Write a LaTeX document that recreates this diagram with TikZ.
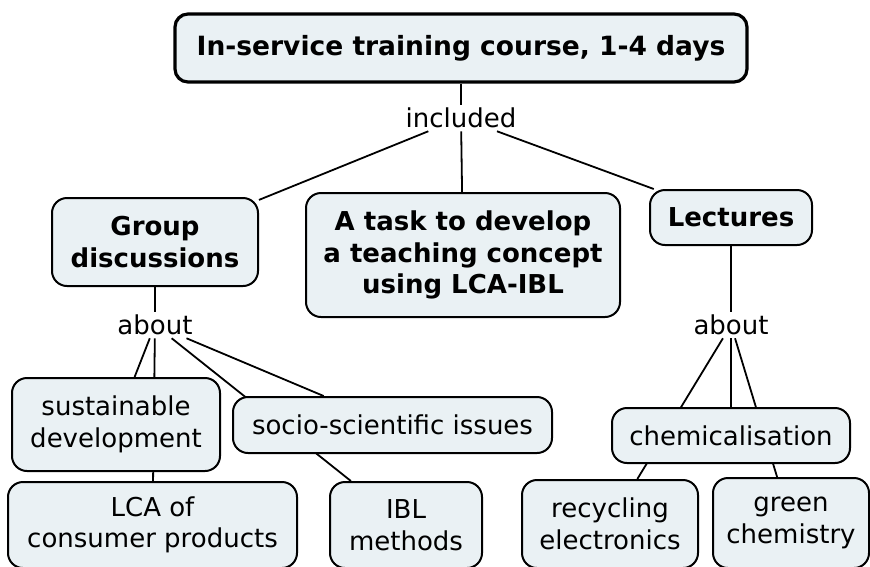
\documentclass[tikz,border=0pt]{standalone}
\usepackage{fontspec}
\setmainfont{DejaVu Sans}
\usepackage{tikz}
\usetikzlibrary{positioning,backgrounds}
\definecolor{boxfill}{HTML}{EAF1F4}

\begin{document}
\begin{tikzpicture}[x=1pt,y=-1pt,
  concept/.style={draw=black,line width=2pt,fill=boxfill,rounded corners=15pt,
    align=center,inner sep=0pt,font=\fontsize{26}{31.5}\selectfont},
  mainconcept/.style={concept,font=\fontsize{26}{31.5}\selectfont\bfseries},
  linkword/.style={inner sep=3pt,font=\fontsize{26}{31.5}\selectfont},
  link/.style={line width=1.8pt}]
  \useasboundingbox (0,0) rectangle (870,566);

  % Top concept
  \node[mainconcept,line width=3.2pt,rounded corners=13pt,minimum width=572pt,minimum height=68pt,
    font=\fontsize{26.5}{32}\selectfont\bfseries] (course) at (461,48) {In-service training course, 1-4 days};
  \node[linkword] (included) at (461,118) {included};

  % Second row
  \node[mainconcept,minimum width=206pt,minimum height=88pt] (groupdisc) at (155,242) {Group\\discussions};
  \node[mainconcept,minimum width=314pt,minimum height=124pt] (task) at (463,255) {A task to develop\\a teaching concept\\using LCA-IBL};
  \node[mainconcept,minimum width=162pt,minimum height=55pt] (lectures) at (731,217.5) {Lectures};

  \node[linkword] (aboutgroup) at (155,325) {about};
  \node[linkword] (aboutlect) at (731,325) {about};

  % Topics of the group discussions
  \node[concept,minimum width=208pt,minimum height=93pt] (sustdev) at (116,424.5) {sustainable\\development};
  \node[concept,minimum width=319pt,minimum height=56pt] (socio) at (392.5,425) {socio-scientific issues};
  \node[concept,minimum width=289pt,minimum height=86pt] (lca) at (152.5,525) {LCA of\\consumer products};
  \node[concept,minimum width=152pt,minimum height=86pt] (ibl) at (406,525) {IBL\\methods};

  % Topics of the lectures
  \node[concept,minimum width=238pt,minimum height=55pt] (chem) at (731,435.5) {chemicalisation};
  \node[concept,minimum width=176pt,minimum height=88pt] (recycling) at (610,524) {recycling\\electronics};
  \node[concept,minimum width=156pt,minimum height=90pt] (greenchem) at (791,523) {green\\chemistry};

  % Connectors, behind the boxes
  \begin{scope}[on background layer]
    \draw[link] (course) -- (included);
    \draw[link] (included) -- (groupdisc);
    \draw[link] (included) -- (task);
    \draw[link] (included) -- (lectures);
    \draw[link] (groupdisc) -- (aboutgroup);
    \draw[link] (lectures) -- (aboutlect);
    \draw[link] (aboutgroup) -- (sustdev);
    \draw[link] (aboutgroup) -- (lca);
    \draw[link] (aboutgroup) -- (socio);
    \draw[link] (aboutgroup) -- (ibl);
    \draw[link] (aboutlect) -- (chem);
    \draw[link] (aboutlect) -- (recycling);
    \draw[link] (aboutlect) -- (greenchem);
  \end{scope}
\end{tikzpicture}
\end{document}
